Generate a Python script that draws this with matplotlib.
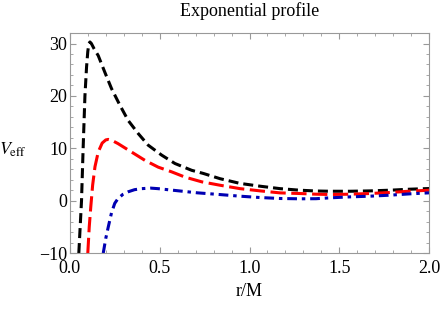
import matplotlib
matplotlib.use("Agg")
import matplotlib.pyplot as plt
from matplotlib.ticker import MultipleLocator

plt.rcParams['font.family'] = ['Liberation Serif', 'DejaVu Serif']
plt.rcParams['mathtext.fontset'] = 'stix'
plt.rcParams['lines.scale_dashes'] = False

# values
r_black = [0.05, 0.065, 0.074, 0.084, 0.093, 0.100, 0.106, 0.112, 0.12, 0.135,
           0.158, 0.195, 0.232, 0.279, 0.325, 0.381, 0.436, 0.511, 0.585,
           0.678, 0.743, 0.836, 0.947, 1.06, 1.17, 1.28, 1.37, 1.45, 1.56,
           1.67, 1.78, 1.89, 2.0]
v_black = [-10, 0, 10, 20, 25.5, 28.5, 30.0, 30.3, 30.0, 29.0,
           27.7, 24.5, 21.4, 18.2, 15.3, 12.8, 10.6, 8.7, 7.1,
           5.8, 5.2, 4.2, 3.3, 2.76, 2.3, 2.0, 1.85, 1.8, 1.8,
           1.87, 2.0, 2.19, 2.32]

r_red = [0.100, 0.108, 0.117, 0.127, 0.14, 0.158, 0.18, 0.2, 0.214, 0.235,
         0.268, 0.343, 0.418, 0.492, 0.567, 0.641, 0.734, 0.836, 0.947,
         1.06, 1.17, 1.28, 1.37, 1.45, 1.56, 1.67, 1.78, 1.89, 2.0]
v_red = [-10, -5, -1, 3, 6.5, 9.3, 11.0, 11.6, 11.7, 11.5,
         10.9, 9.3, 7.7, 6.4, 5.5, 4.5, 3.6, 2.95, 2.3,
         1.87, 1.49, 1.37, 1.24, 1.18, 1.24, 1.37, 1.56, 1.81, 2.0]

r_blue = [0.186, 0.2, 0.214, 0.232, 0.25, 0.268, 0.295, 0.325, 0.36, 0.4,
          0.45, 0.49, 0.6, 0.71, 0.836, 0.947, 1.06, 1.17, 1.28, 1.37,
          1.45, 1.56, 1.67, 1.78, 1.89, 2.0]
v_blue = [-10, -7.2, -5, -2.3, -0.5, 0.4, 1.2, 1.7, 2.1, 2.3,
          2.4, 2.3, 1.9, 1.5, 1.17, 0.86, 0.6, 0.42, 0.36, 0.38,
          0.55, 0.73, 0.86, 1.05, 1.3, 1.5]

fig = plt.figure(figsize=(4.42, 3.09), dpi=100)
ax = fig.add_axes([0.158, 0.181, 0.813, 0.712])

ax.plot(r_black, v_black, color='black', lw=2.2, dashes=(7.2, 3.6))
ax.plot(r_red, v_red, color='#ff0000', lw=2.2, dashes=(11, 4))
ax.plot(r_blue, v_blue, color='#0000b3', lw=2.2, dashes=(7, 3.5, 2.5, 3.5))

ax.set_xlim(0, 2.0)
ax.set_ylim(-10, 32)
ax.xaxis.set_major_locator(MultipleLocator(0.5))
ax.xaxis.set_minor_locator(MultipleLocator(0.1))
ax.yaxis.set_major_locator(MultipleLocator(10))
ax.yaxis.set_minor_locator(MultipleLocator(2))
ax.xaxis.set_major_formatter(plt.FormatStrFormatter('%.1f'))

ax.tick_params(which='both', direction='in', top=True, right=True,
               color='#999999', labelsize=13)
ax.tick_params(axis='y', pad=2)
ax.tick_params(axis='x', pad=5)
ax.tick_params(which='major', length=4, width=0.8)
ax.tick_params(which='minor', length=2, width=0.6)
for s in ax.spines.values():
    s.set_color('#999999')
    s.set_linewidth(0.8)

ax.set_title('Exponential profile', fontsize=13, pad=12)
ax.set_xlabel('r/M', fontsize=13, labelpad=4)
ax.set_ylabel(r'$V_{\rm eff}$', fontsize=13, rotation=0, ha='center', va='center')
ax.yaxis.set_label_coords(-0.16, 0.47)

fig.savefig('out.png', dpi=100)
